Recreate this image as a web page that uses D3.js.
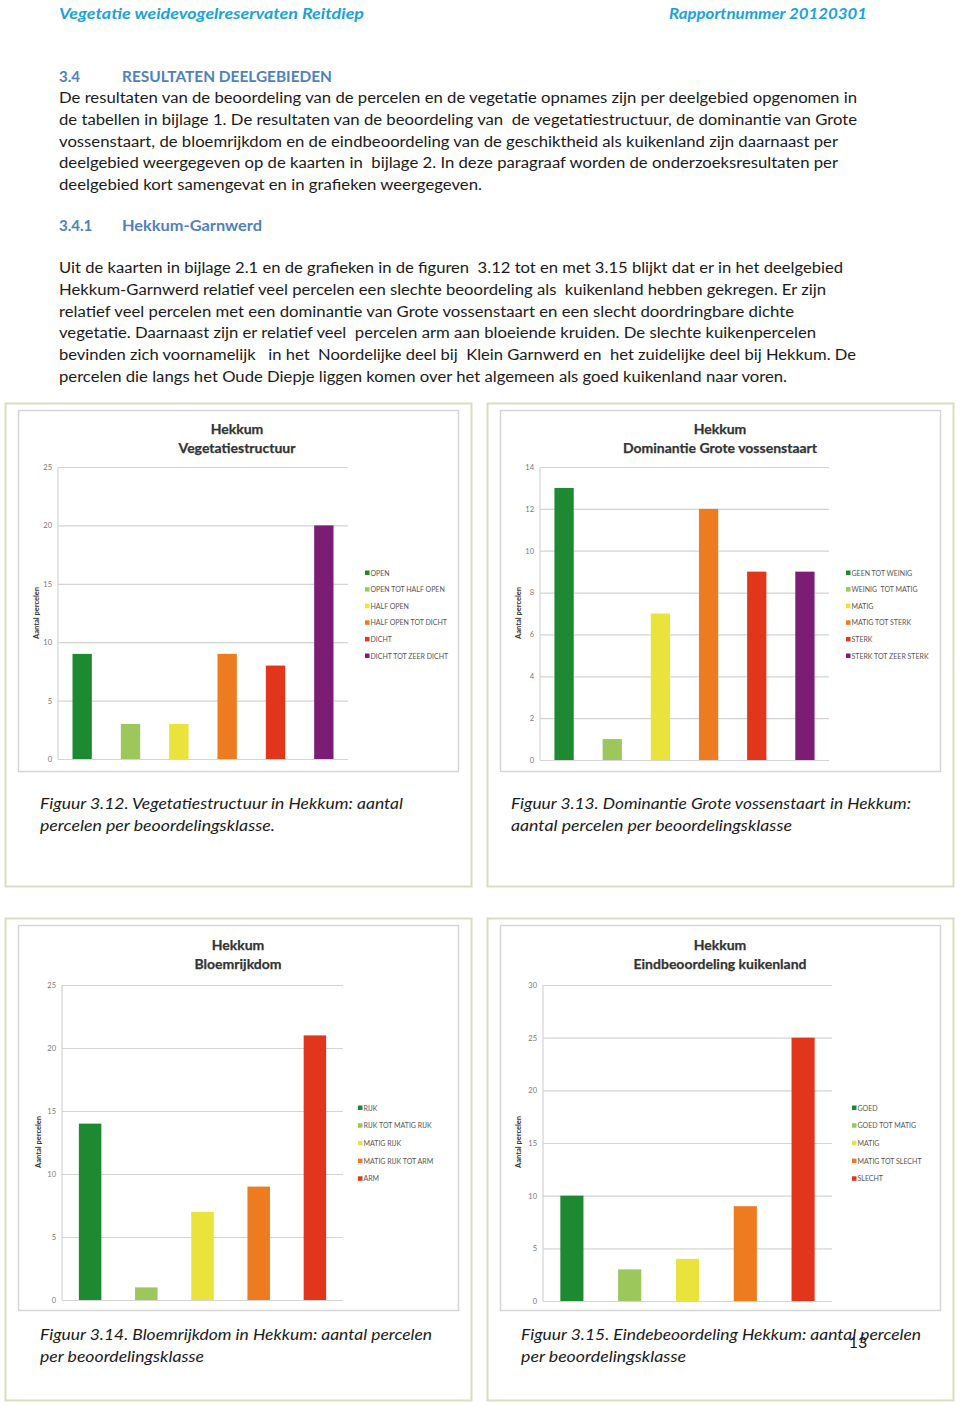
<!DOCTYPE html>
<html><head><meta charset="utf-8">
<script src="https://cdn.jsdelivr.net/npm/d3@7"></script>
<style>body{margin:0;background:#fff}svg{display:block}</style>
</head><body>
<script>
// ---------- DATA ----------
const chart1Title = ["Hekkum", "Vegetatiestructuur"];
const chart1Categories = ["OPEN", "OPEN TOT HALF OPEN", "HALF OPEN", "HALF OPEN TOT DICHT", "DICHT", "DICHT TOT ZEER DICHT"];
const chart1Values = [9, 3, 3, 9, 8, 20];
const chart1Ticks = [0, 5, 10, 15, 20, 25];

const chart2Title = ["Hekkum", "Dominantie Grote vossenstaart"];
const chart2Categories = ["GEEN TOT WEINIG", "WEINIG  TOT MATIG", "MATIG", "MATIG TOT STERK", "STERK", "STERK TOT ZEER STERK"];
const chart2Values = [13, 1, 7, 12, 9, 9];
const chart2Ticks = [0, 2, 4, 6, 8, 10, 12, 14];

const chart3Title = ["Hekkum", "Bloemrijkdom"];
const chart3Categories = ["RIJK", "RIJK TOT MATIG RIJK", "MATIG RIJK", "MATIG RIJK TOT ARM", "ARM"];
const chart3Values = [14, 1, 7, 9, 21];
const chart3Ticks = [0, 5, 10, 15, 20, 25];

const chart4Title = ["Hekkum", "Eindbeoordeling kuikenland"];
const chart4Categories = ["GOED", "GOED TOT MATIG", "MATIG", "MATIG TOT SLECHT", "SLECHT"];
const chart4Values = [10, 3, 4, 9, 25];
const chart4Ticks = [0, 5, 10, 15, 20, 25, 30];

const yAxisLabel = "Aantal percelen";

const headerLeft = "Vegetatie weidevogelreservaten Reitdiep";
const headerRight = "Rapportnummer 20120301";
const section1 = ["3.4", "RESULTATEN DEELGEBIEDEN"];
const para1 = [
  "De resultaten van de beoordeling van de percelen en de vegetatie opnames zijn per deelgebied opgenomen in",
  "de tabellen in bijlage 1. De resultaten van de beoordeling van  de vegetatiestructuur, de dominantie van Grote",
  "vossenstaart, de bloemrijkdom en de eindbeoordeling van de geschiktheid als kuikenland zijn daarnaast per",
  "deelgebied weergegeven op de kaarten in  bijlage 2. In deze paragraaf worden de onderzoeksresultaten per",
  "deelgebied kort samengevat en in grafieken weergegeven."
];
const section2 = ["3.4.1", "Hekkum-Garnwerd"];
const para2 = [
  "Uit de kaarten in bijlage 2.1 en de grafieken in de figuren  3.12 tot en met 3.15 blijkt dat er in het deelgebied",
  "Hekkum-Garnwerd relatief veel percelen een slechte beoordeling als  kuikenland hebben gekregen. Er zijn",
  "relatief veel percelen met een dominantie van Grote vossenstaart en een slecht doordringbare dichte",
  "vegetatie. Daarnaast zijn er relatief veel  percelen arm aan bloeiende kruiden. De slechte kuikenpercelen",
  "bevinden zich voornamelijk   in het  Noordelijke deel bij  Klein Garnwerd en  het zuidelijke deel bij Hekkum. De",
  "percelen die langs het Oude Diepje liggen komen over het algemeen als goed kuikenland naar voren."
];
const caption1 = ["Figuur 3.12. Vegetatiestructuur in Hekkum: aantal", "percelen per beoordelingsklasse."];
const caption2 = ["Figuur 3.13. Dominantie Grote vossenstaart in Hekkum:", "aantal percelen per beoordelingsklasse"];
const caption3 = ["Figuur 3.14. Bloemrijkdom in Hekkum: aantal percelen", "per beoordelingsklasse"];
const caption4 = ["Figuur 3.15. Eindebeoordeling Hekkum: aantal percelen", "per beoordelingsklasse"];
const pageNumber = "13";

// ---------- STYLES ----------
const palette6 = ["#1d8a32", "#9cc75b", "#e9e33b", "#ec7c1f", "#e2361c", "#7b1e73"];
const palette5 = ["#1d8a32", "#9cc75b", "#e9e33b", "#ec7c1f", "#e2361c"];
const FONT = "Lato, 'Open Sans', sans-serif";

const svg = d3.select("body").append("svg").attr("width", 960).attr("height", 1406);

// Header
svg.append("text").attr("x", 59).attr("y", 19).text(headerLeft)
  .attr("font-family", FONT).attr("font-style", "italic").attr("font-weight", 700)
  .attr("font-size", 16).attr("fill", "#1aa2dc")
  .attr("textLength", 305).attr("lengthAdjust", "spacingAndGlyphs");
svg.append("text").attr("x", 867).attr("y", 19).attr("text-anchor", "end").text(headerRight)
  .attr("font-family", FONT).attr("font-style", "italic").attr("font-weight", 700)
  .attr("font-size", 16).attr("fill", "#1aa2dc")
  .attr("textLength", 198).attr("lengthAdjust", "spacingAndGlyphs");

function heading(parts, y, w2) {
  svg.append("text").attr("x", 59).attr("y", y).text(parts[0])
    .attr("font-family", FONT).attr("font-weight", 700).attr("font-size", 15).attr("fill", "#4f81bd");
  svg.append("text").attr("x", 122).attr("y", y).text(parts[1])
    .attr("font-family", FONT).attr("font-weight", 700).attr("font-size", 15).attr("fill", "#4f81bd")
    .attr("textLength", w2).attr("lengthAdjust", "spacingAndGlyphs");
}
heading(section1, 82, 210);
heading(section2, 231, 140);

function paragraph(lines, y0, ends) {
  lines.forEach((l, i) => {
    svg.append("text").attr("x", 59).attr("y", y0 + i * 21.8).text(l)
      .attr("font-family", FONT).attr("font-size", 15.5).attr("fill", "#1a1a1a")
      .attr("xml:space", "preserve").style("white-space", "pre")
      .attr("textLength", ends[i] - 59).attr("lengthAdjust", "spacingAndGlyphs");
  });
}
paragraph(para1, 103, [857, 857, 838, 838, 482]);
paragraph(para2, 273, [843, 826, 794, 816, 856, 787]);

// ---------- CHARTS ----------
function drawChart(c) {
  const g = svg.append("g");
  // outer frame
  g.append("rect").attr("x", c.frame[0] + 0.5).attr("y", c.frame[1] + 0.5)
    .attr("width", c.frame[2] - c.frame[0]).attr("height", c.frame[3] - c.frame[1])
    .attr("fill", "#fff").attr("stroke", "#d9ddbf").attr("stroke-width", 2);
  // chart area
  g.append("rect").attr("x", c.inner[0] + 0.5).attr("y", c.inner[1] + 0.5)
    .attr("width", c.inner[2] - c.inner[0]).attr("height", c.inner[3] - c.inner[1])
    .attr("fill", "#fff").attr("stroke", "#d6d6d6").attr("stroke-width", 1.5);

  const x = d3.scaleBand().domain(c.categories).range([c.plot[0], c.plot[2]])
    .paddingInner(0.6).paddingOuter(0.3);
  const y = d3.scaleLinear().domain([0, d3.max(c.ticks)]).range([c.plot[3], c.plot[1]]);

  const ax = g.append("g").attr("transform", `translate(${c.plot[0]},0)`)
    .call(d3.axisLeft(y).tickValues(c.ticks).tickSize(-(c.plot[2] - c.plot[0])).tickPadding(6));
  ax.select(".domain").remove();
  ax.selectAll(".tick line").attr("stroke", "#d4d4d4").attr("stroke-width", 1.2);
  ax.selectAll(".tick text").attr("font-family", FONT).attr("font-size", 7.5).attr("fill", "#777");

  // vertical axis line
  g.append("line").attr("x1", c.plot[0]).attr("x2", c.plot[0]).attr("y1", c.plot[1]).attr("y2", c.plot[3])
    .attr("stroke", "#d4d4d4").attr("stroke-width", 1.2);

  g.selectAll("rect.bar").data(c.values).enter().append("rect").attr("class", "bar")
    .attr("x", (d, i) => x(c.categories[i])).attr("width", x.bandwidth())
    .attr("y", d => y(d)).attr("height", d => y(0) - y(d))
    .attr("fill", (d, i) => c.colors[i]);

  // title
  c.title.forEach((t, i) => {
    g.append("text").attr("x", c.titleX).attr("y", c.titleY + i * 18.5).attr("text-anchor", "middle")
      .text(t).attr("font-family", FONT).attr("font-weight", 700).attr("font-size", 14).attr("fill", "#333")
      .attr("stroke", "#333").attr("stroke-width", 0.25);
  });

  // y label
  g.append("text").attr("transform", `translate(${c.yLabelX},${c.yLabelY}) rotate(-90)`)
    .attr("text-anchor", "middle").text(yAxisLabel)
    .attr("font-family", FONT).attr("font-weight", 700).attr("font-size", 7.5).attr("fill", "#333");

  // legend
  c.categories.forEach((cat, i) => {
    const ly = c.legend[1] + i * c.legendStep;
    g.append("rect").attr("x", c.legend[0]).attr("y", ly - 2.5).attr("width", 4.5).attr("height", 4.5).attr("fill", c.colors[i]);
    g.append("text").attr("x", c.legend[0] + 5.5).attr("y", ly + 2.6).text(cat)
      .attr("xml:space", "preserve").style("white-space", "pre")
      .attr("font-family", FONT).attr("font-size", 7).attr("fill", "#555");
  });

  // caption
  c.caption.forEach((t, i) => {
    g.append("text").attr("x", c.capX).attr("y", c.capY + i * 22).text(t)
      .attr("font-family", FONT).attr("font-style", "italic").attr("font-size", 15.5).attr("fill", "#1a1a1a")
      .attr("textLength", c.capEnds[i] - c.capX).attr("lengthAdjust", "spacingAndGlyphs");
  });
}

drawChart({
  frame: [5, 403, 471, 886], inner: [18, 410, 458, 771], plot: [58, 467, 348, 759],
  categories: chart1Categories, values: chart1Values, ticks: chart1Ticks, colors: palette6,
  title: chart1Title, titleX: 237, titleY: 434, yLabelX: 39, yLabelY: 613,
  legend: [365, 573], legendStep: 16.6,
  caption: caption1, capX: 40, capY: 809, capEnds: [403, 275]
});
drawChart({
  frame: [487, 403, 953, 886], inner: [500, 410, 940, 771], plot: [540, 467, 829, 760],
  categories: chart2Categories, values: chart2Values, ticks: chart2Ticks, colors: palette6,
  title: chart2Title, titleX: 720, titleY: 434, yLabelX: 521, yLabelY: 613,
  legend: [846, 573], legendStep: 16.6,
  caption: caption2, capX: 511, capY: 809, capEnds: [911, 792]
});
drawChart({
  frame: [5, 918, 471, 1400], inner: [18, 925, 458, 1310], plot: [62, 985, 343, 1300],
  categories: chart3Categories, values: chart3Values, ticks: chart3Ticks, colors: palette5,
  title: chart3Title, titleX: 238, titleY: 950, yLabelX: 41, yLabelY: 1142,
  legend: [358, 1108], legendStep: 17.7,
  caption: caption3, capX: 40, capY: 1340, capEnds: [432, 204]
});
drawChart({
  frame: [487, 918, 953, 1400], inner: [500, 925, 940, 1310], plot: [543, 985, 832, 1301],
  categories: chart4Categories, values: chart4Values, ticks: chart4Ticks, colors: palette5,
  title: chart4Title, titleX: 720, titleY: 950, yLabelX: 521, yLabelY: 1142,
  legend: [852, 1108], legendStep: 17.7,
  caption: caption4, capX: 521, capY: 1340, capEnds: [921, 686]
});

// page number (overlaps the caption in the reference page as well)
svg.append("text").attr("x", 858).attr("y", 1348).attr("text-anchor", "middle").text(pageNumber)
  .attr("font-family", FONT).attr("font-size", 16).attr("fill", "#1a1a1a");
</script>
</body></html>
